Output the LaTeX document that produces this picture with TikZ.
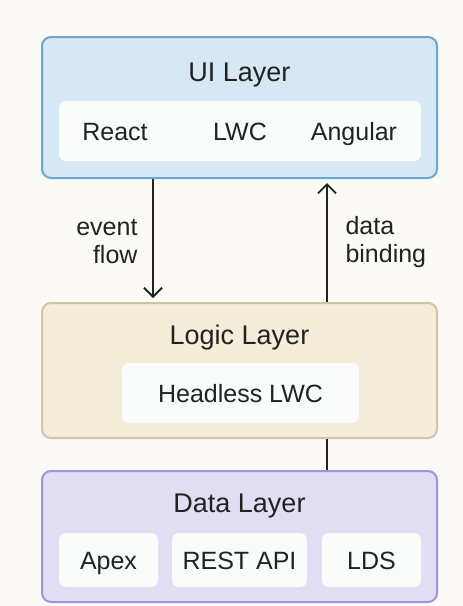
\documentclass[tikz,border=0pt]{standalone}
\usepackage{fontspec}
\setmainfont{Liberation Sans}
\usetikzlibrary{arrows.meta}
\definecolor{bgcol}{HTML}{FBFAF6}
\definecolor{uifill}{HTML}{D6E8F3}
\definecolor{uiline}{HTML}{6BA6D2}
\definecolor{logicfill}{HTML}{F5EDDA}
\definecolor{logicline}{HTML}{CFC4A6}
\definecolor{datafill}{HTML}{E1DEF3}
\definecolor{dataline}{HTML}{9D95D8}
\definecolor{inner}{HTML}{FAFBFB}
\definecolor{ink}{HTML}{222222}

\begin{document}
\begin{tikzpicture}[x=1pt, y=-1pt,
		layer/.style = {draw, line width=2pt, rounded corners=9pt, minimum width=395pt, inner sep=0pt},
		band/.style = {fill=inner, rounded corners=7pt, minimum height=60pt, inner sep=0pt},
		title/.style = {text=ink, font=\fontsize{27}{30}\selectfont, text height=19.5pt, text depth=0pt},
		item/.style = {text=ink, font=\fontsize{25}{28}\selectfont, text height=18pt, text depth=0pt},
		arr/.style = {draw=ink, line width=1.8pt, -{Straight Barb[length=9pt, width=18pt, line width=1.8pt]}}]
				%background
				\fill[bgcol] (0,0) rectangle (463,606);
				\useasboundingbox (0,0) rectangle (463,606);
				%UI layer
				\node[layer, draw=uiline, fill=uifill, minimum height=141pt] (ui) at (239.5,107.5) {};
				\node[title] (uititle) at (239.5,72) {UI Layer};
				\node[band, minimum width=362pt] (uiband) at (240,131) {};
				\node[item] (react) at (115,131) {React};
				\node[item] (lwc) at (240,131) {LWC};
				\node[item] (angular) at (354,131) {Angular};
				%logic layer
				\node[layer, draw=logicline, fill=logicfill, minimum height=135pt] (logic) at (239.5,370.5) {};
				\node[title] (logictitle) at (239.5,335) {Logic Layer};
				\node[band, minimum width=237pt, item] (headless) at (240.5,393) {Headless LWC};
				%data layer
				\node[layer, draw=dataline, fill=datafill, minimum height=131pt] (data) at (239.5,536.5) {};
				\node[title] (datatitle) at (239.5,503) {Data Layer};
				\node[band, minimum width=99pt, minimum height=54pt, item] (apex) at (108.5,560) {Apex};
				\node[band, minimum width=135pt, minimum height=54pt, item] (rest) at (239.5,560) {REST API};
				\node[band, minimum width=99pt, minimum height=54pt, item] (lds) at (371.5,560) {LDS};
				%connectors
				\coordinate (down) at (153,0);
				\coordinate (up) at (327,0);
				\draw[arr] (ui.south -| down) -- (logic.north -| down) [shorten >=4pt];
				\draw[arr] (logic.north -| up) -- (ui.south -| up) [shorten >=4pt];
				\draw[draw=ink, line width=1.8pt] (logic.south -| up) -- (data.north -| up);
				\node[item, align=right, anchor=east, text height=, text depth=] (eventlbl) at (141,242) {event\\flow};
				\node[item, align=left, anchor=west, text height=, text depth=] (bindlbl) at (342,242) {data\\binding};
			\end{tikzpicture}
\end{document}
